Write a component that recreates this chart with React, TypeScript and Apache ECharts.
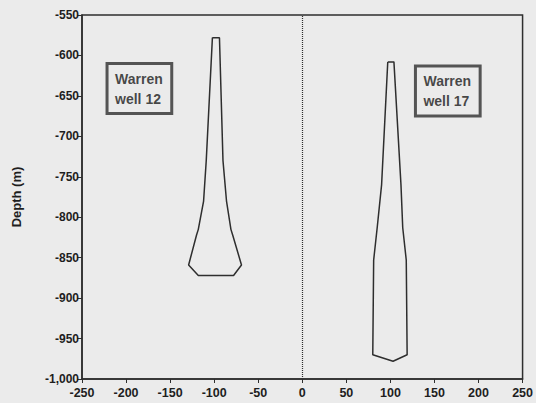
import React, { useEffect, useRef } from "react";
import * as echarts from "echarts";

// Well 12 outline (x offset m, depth m), closed polygon
const well12X = [-102, -94, -90, -86, -81, -79, -69, -78, -118, -129, -120, -118, -112, -109, -102];
const well12Y = [-578, -578, -730, -780, -815, -822, -859, -872, -872, -859, -822, -815, -780, -730, -578];

// Well 17 outline
const well17X = [97, 104, 112, 114, 118, 119, 103, 80, 81, 85, 90, 97];
const well17Y = [-608, -608, -760, -813, -853, -970, -978, -970, -853, -813, -760, -608];

const labelNames = ["Warren\nwell 12", "Warren\nwell 17"];
const labelX = [-183, 167];
const labelY = [-641, -644];

const xTicks = { min: -250, max: 250, interval: 50 };
const yTicks = { min: -1000, max: -550, interval: 50 };

const INK = "#2e2e2e";
const FONT = "Liberation Sans";

export default function App() {
  const ref = useRef<HTMLDivElement>(null);
  useEffect(() => {
    if (!ref.current) return;
    const chart = echarts.init(ref.current, null, { renderer: "svg" });
    const zip = (xs: number[], ys: number[]) => xs.map((x, i) => [x, ys[i]]);
    chart.setOption({
      animation: false,
      backgroundColor: "#ebebeb",
      grid: {
        left: 82,
        right: 13,
        top: 15,
        bottom: 24,
        show: true,
        borderColor: INK,
        borderWidth: 1.5,
        backgroundColor: "transparent",
      },
      xAxis: {
        type: "value",
        min: xTicks.min,
        max: xTicks.max,
        interval: xTicks.interval,
        splitLine: { show: false },
        axisLine: { show: true, onZero: false, lineStyle: { color: INK, width: 1.5 } },
        axisTick: { show: true, length: 4, lineStyle: { color: INK, width: 1 } },
        axisLabel: {
          color: "#1e1e1e",
          fontFamily: FONT,
          fontWeight: "bold",
          fontSize: 12.5,
          margin: 7,
        },
      },
      yAxis: {
        type: "value",
        min: yTicks.min,
        max: yTicks.max,
        interval: yTicks.interval,
        name: "Depth (m)",
        nameLocation: "middle",
        nameGap: 59,
        nameTextStyle: { color: "#1e1e1e", fontFamily: FONT, fontWeight: "bold", fontSize: 13 },
        splitLine: { show: false },
        axisLine: { show: true, onZero: false, lineStyle: { color: INK, width: 1.5 } },
        axisTick: { show: true, length: 5, lineStyle: { color: INK, width: 1 } },
        axisLabel: {
          color: "#1e1e1e",
          fontFamily: FONT,
          fontWeight: "bold",
          fontSize: 12,
          margin: 3,
        },
      },
      series: [
        {
          type: "line",
          data: zip(well12X, well12Y),
          symbol: "none",
          lineStyle: { color: INK, width: 1.5 },
          markLine: {
            silent: true,
            symbol: "none",
            label: { show: false },
            lineStyle: { color: INK, type: [1, 1], width: 1.2 },
            data: [{ xAxis: 0 }],
          },
        },
        {
          type: "line",
          data: zip(well17X, well17Y),
          symbol: "none",
          lineStyle: { color: INK, width: 1.5 },
        },
        {
          type: "scatter",
          symbolSize: 0,
          data: labelX.map((x, i) => ({ value: [x, labelY[i]], name: labelNames[i] })),
          label: {
            show: true,
            position: "inside",
            offset: [-34, 0],
            formatter: (p: any) => p.name,
            color: "#1a1a1a",
            fontFamily: FONT,
            fontWeight: "bold",
            fontSize: 14,
            lineHeight: 20,
            align: "left",
            padding: [5, 9, 5, 8],
            borderColor: INK,
            borderWidth: 1.5,
            backgroundColor: "transparent",
          },
        },
      ],
    });
    return () => chart.dispose();
  }, []);
  return (
    <div
      ref={ref}
      style={{ position: "absolute", left: 0, top: 0, width: 536, height: 403 }}
    />
  );
}
